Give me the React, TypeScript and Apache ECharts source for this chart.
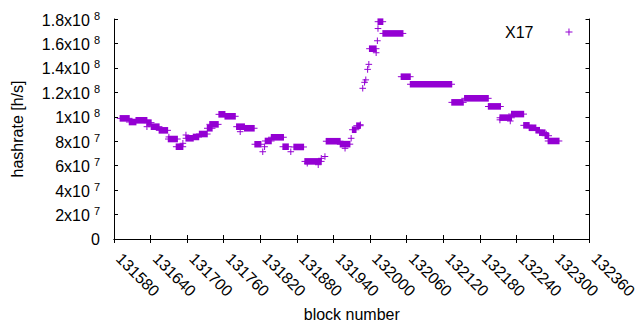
import React, { useEffect, useRef } from "react";
import * as echarts from "echarts";

// Runs of consecutive X17 blocks sharing one hashrate value (block from, block to, h/s)
const runFrom = [131590, 131605, 131616, 131634, 131641, 131654, 131669, 131682, 131698, 131710, 131720, 131733, 131737, 131752, 131762, 131781, 131794, 131811, 131828, 131838, 131857, 131875, 131893, 131928, 131951, 131971, 131978, 131999, 132013, 132021, 132051, 132066, 132134, 132155, 132194, 132213, 132232, 132252, 132261, 132272, 132278, 132287, 132292];
const runTo = [131605, 131616, 131634, 131641, 131654, 131668, 131684, 131693, 131710, 131719, 131733, 131741, 131751, 131762, 131779, 131794, 131810, 131821, 131838, 131858, 131866, 131891, 131920, 131951, 131967, 131977, 131984, 132010, 132021, 132054, 132066, 132134, 132153, 132194, 132214, 132232, 132252, 132261, 132272, 132278, 132287, 132293, 132310];
const runHash = [9.87e7, 9.57e7, 9.71e7, 9.52e7, 9.19e7, 8.89e7, 8.18e7, 7.55e7, 8.24e7, 8.35e7, 8.59e7, 9.06e7, 9.38e7, 1.02e8, 1.004e8, 9.19e7, 9.06e7, 7.75e7, 8.02e7, 8.32e7, 7.55e7, 7.53e7, 6.35e7, 8.0e7, 7.76e7, 8.94e7, 9.27e7, 1.557e8, 1.778e8, 1.682e8, 1.328e8, 1.266e8, 1.118e8, 1.151e8, 1.085e8, 9.93e7, 1.022e8, 9.3e7, 9.1e7, 8.9e7, 8.7e7, 8.45e7, 8.02e7];

// Isolated X17 blocks
const ptBlock = [131634, 131670, 131693, 131698, 131787, 131824, 131827, 131870, 131897, 131915, 131920, 131926, 131959, 131969, 131984, 131988, 131991, 131993, 131996, 131998, 132010, 132012, 132013, 132213, 132230, 132289];
const ptHash = [9.19e7, 8.35e7, 7.83e7, 8.51e7, 8.78e7, 7.14e7, 7.55e7, 7.14e7, 6.2e7, 6.08e7, 6.6e7, 6.75e7, 7.42e7, 8.24e7, 9.35e7, 1.233e8, 1.282e8, 1.302e8, 1.388e8, 1.429e8, 1.524e8, 1.622e8, 1.722e8, 9.75e7, 9.65e7, 8.59e7];

const seriesName = "X17";
const xMin = 131580;
const xMax = 132360;
const xStep = 60;
const yMin = 0;
const yMax = 1.8e8;
const yStep = 2e7;

const COLOR = "#9400D3";
const FONT = "'Liberation Sans', Arial, sans-serif";
const FS = 16;

function yLabel(v: number): string {
  if (v === 0) return "0";
  const exp = Math.floor(Math.log10(v) + 1e-9);
  const mant = Math.round((v / Math.pow(10, exp)) * 10) / 10;
  return `{mant|${mant}x10}{pow|${exp}}`;
}

export default function App() {
  const ref = useRef<HTMLDivElement>(null);
  useEffect(() => {
    if (!ref.current) return;
    const chart = echarts.init(ref.current, null, { renderer: "svg" });
    const data: number[][] = [];
    runFrom.forEach((f, i) => data.push([f, runTo[i], runHash[i]]));
    ptBlock.forEach((b, i) => data.push([b, b, ptHash[i]]));

    const tickStyle = { show: true, inside: true, length: 4, lineStyle: { color: "#000", width: 1 } };
    const lineStyle = { show: true, lineStyle: { color: "#000", width: 1 } };

    chart.setOption({
      animation: false,
      textStyle: { fontFamily: FONT, fontSize: FS },
      grid: { left: 114, right: 31, top: 19, bottom: 91, containLabel: false },
      legend: {
        data: [seriesName],
        left: 500,
        top: 19,
        align: "right",
        itemWidth: 7,
        itemHeight: 7,
        icon: "path://M0,3L7,3L7,4L0,4Z M3,0L4,0L4,7L3,7Z",
        textStyle: { fontSize: FS, color: "#000", fontFamily: FONT, padding: [0, 27, 0, 0] },
      },
      xAxis: [
        {
          type: "value",
          position: "bottom",
          min: xMin,
          max: xMax,
          interval: xStep,
          name: "block number",
          nameLocation: "middle",
          nameGap: 67,
          nameTextStyle: { fontSize: FS, color: "#000", fontFamily: FONT },
          axisLine: lineStyle,
          axisTick: tickStyle,
          splitLine: { show: false },
          axisLabel: {
            rotate: -45,
            fontSize: FS,
            color: "#000",
            fontFamily: FONT,
            margin: 12,
            padding: [0, 0, 0, 7],
            showMinLabel: true,
            showMaxLabel: true,
            formatter: (v: number) => String(v),
          },
        },
        {
          type: "value",
          position: "top",
          min: xMin,
          max: xMax,
          interval: xStep,
          axisLine: lineStyle,
          axisTick: tickStyle,
          axisLabel: { show: false },
          splitLine: { show: false },
        },
      ],
      yAxis: [
        {
          type: "value",
          position: "left",
          min: yMin,
          max: yMax,
          interval: yStep,
          name: "hashrate [h/s]",
          nameLocation: "middle",
          nameRotate: 90,
          nameGap: 89,
          nameTextStyle: { fontSize: FS, color: "#000", fontFamily: FONT },
          axisLine: lineStyle,
          axisTick: tickStyle,
          splitLine: { show: false },
          axisLabel: {
            margin: 14,
            color: "#000",
            fontFamily: FONT,
            fontSize: FS,
            formatter: yLabel,
            rich: {
              mant: { fontSize: FS, lineHeight: 18, color: "#000", fontFamily: FONT, verticalAlign: "bottom" },
              pow: { fontSize: 11, lineHeight: 13, color: "#000", fontFamily: FONT, verticalAlign: "top", padding: [0, 0, 6, 4] },
            },
          },
        },
        {
          type: "value",
          position: "right",
          min: yMin,
          max: yMax,
          interval: yStep,
          axisLine: lineStyle,
          axisTick: tickStyle,
          axisLabel: { show: false },
          splitLine: { show: false },
        },
      ],
      series: [
        {
          name: seriesName,
          type: "custom",
          xAxisIndex: 0,
          yAxisIndex: 0,
          itemStyle: { color: COLOR },
          encode: { x: [0, 1], y: 2 },
          data,
          renderItem: (params: any, api: any) => {
            const a = api.coord([api.value(0), api.value(2)]);
            const b = api.coord([api.value(1), api.value(2)]);
            const h = 3.3;
            return {
              type: "group",
              children: [
                {
                  type: "rect",
                  shape: { x: a[0] - 0.5, y: a[1] - h, width: b[0] - a[0] + 1, height: 2 * h },
                  style: { fill: COLOR },
                },
                {
                  type: "rect",
                  shape: { x: a[0] - h, y: a[1] - 0.5, width: b[0] - a[0] + 2 * h, height: 1 },
                  style: { fill: COLOR },
                },
              ],
            };
          },
        },
      ],
    });
    return () => chart.dispose();
  }, []);
  return (
    <div
      ref={ref}
      style={{ position: "fixed", left: 0, top: 0, width: 640, height: 330, background: "#fff" }}
    />
  );
}
